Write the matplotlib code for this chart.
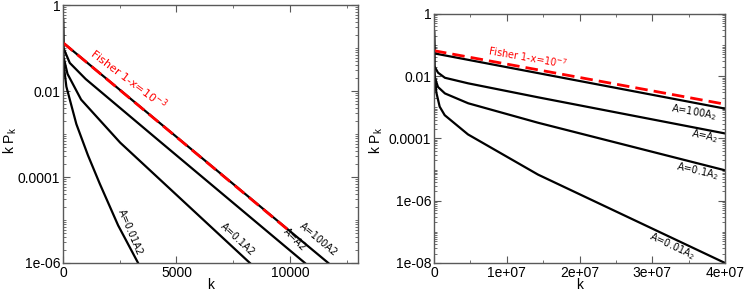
import numpy as np
import matplotlib
matplotlib.use("Agg")
import matplotlib.pyplot as plt
from matplotlib.ticker import LogLocator, MultipleLocator, NullFormatter

# left panel: 1-x = 1e-3
k_fisher_l = [0, 9900]
pk_fisher_l = [0.133, 6.0e-6]
k_100a2_l = [1, 5, 11690]
pk_100a2_l = [0.45, 0.133, 1e-6]
k_a2_l = [1, 20, 300, 1000, 4200, 10660]
pk_a2_l = [0.45, 0.1, 0.045, 0.019, 7.2e-4, 1e-6]
k_01a2_l = [1, 20, 200, 800, 2520, 8235]
pk_01a2_l = [0.45, 0.063, 0.025, 0.0063, 6.3e-4, 1e-6]
k_001a2_l = [1, 10, 150, 590, 1100, 1620, 2430, 3310]
pk_001a2_l = [0.45, 0.05, 0.0126, 0.0017, 3.2e-4, 7.0e-5, 7.5e-6, 1e-6]

# right panel: 1-x = 1e-7
k_fisher_r = [0, 4e7]
pk_fisher_r = [0.066, 0.00126]
k_100a2_r = [1, 5e4, 4e7]
pk_100a2_r = [0.26, 0.054, 9.1e-4]
k_grid_r = [1, 5e4, 5.5e5, 1.5e6, 4.7e6, 1.43e7, 4e7]
pk_a2_r = [0.26, 0.021, 0.013, 0.0089, 0.0059, 0.0021, 1.45e-4]
pk_01a2_r = [0.26, 0.01, 0.0045, 0.0028, 0.00135, 3.2e-4, 9.5e-6]
k_001a2_r = [1, 3e4, 3.2e5, 7.8e5, 1.47e6, 4.67e6, 1.43e7, 4e7]
pk_001a2_r = [0.26, 0.017, 0.003, 0.00105, 5.6e-4, 1.35e-4, 6.9e-6, 1e-8]

plt.rcParams["font.family"] = ["Liberation Sans", "DejaVu Sans"]

fig = plt.figure(figsize=(7.47, 2.93), dpi=100)
ax1 = fig.add_axes([0.0843, 0.1024, 0.395, 0.8805])
ax2 = fig.add_axes([0.581, 0.1024, 0.3896, 0.850])

lw = 1.6
red_kw = dict(color="#ff0000", lw=2.0, dashes=(4.5, 2.2))
lab_kw = dict(fontsize=7, family="DejaVu Sans", ha="center", va="center",
              rotation_mode="anchor")

# ---- left
ax1.plot(k_001a2_l, pk_001a2_l, "k-", lw=lw)
ax1.plot(k_01a2_l, pk_01a2_l, "k-", lw=lw)
ax1.plot(k_a2_l, pk_a2_l, "k-", lw=lw)
ax1.plot(k_100a2_l, pk_100a2_l, "k-", lw=lw)
ax1.plot(k_fisher_l, pk_fisher_l, **red_kw)
ax1.set_yscale("log")
ax1.set_xlim(0, 13000)
ax1.set_ylim(1e-6, 1)
ax1.set_yticks([1, 1e-2, 1e-4, 1e-6], ["1", "0.01", "0.0001", "1e-06"])
ax1.set_xticks([0, 5000, 10000], ["0", "5000", "10000"])
ax1.xaxis.set_minor_locator(MultipleLocator(2500))

ax1.text(2900, 10**-1.72, r"Fisher 1-x=10$^{-3}$", color="#ff0000", rotation=-37,
         **dict(lab_kw, fontsize=8))
ax1.text(2950, 10**-5.28, "A=0.01A2", rotation=-67, **lab_kw)
ax1.text(7700, 10**-5.45, "A=0.1A2", rotation=-43, **lab_kw)
ax1.text(10200, 10**-5.45, "A=A2", rotation=-45, **lab_kw)
ax1.text(11250, 10**-5.45, "A=100A2", rotation=-40, **lab_kw)

# ---- right
ax2.plot(k_001a2_r, pk_001a2_r, "k-", lw=lw)
ax2.plot(k_grid_r, pk_01a2_r, "k-", lw=lw)
ax2.plot(k_grid_r, pk_a2_r, "k-", lw=lw)
ax2.plot(k_100a2_r, pk_100a2_r, "k-", lw=lw)
ax2.plot(k_fisher_r, pk_fisher_r, **red_kw)
ax2.set_yscale("log")
ax2.set_xlim(0, 4e7)
ax2.set_ylim(1e-8, 1)
ax2.set_yticks([1, 1e-2, 1e-4, 1e-6, 1e-8], ["1", "0.01", "0.0001", "1e-06", "1e-08"])
ax2.set_xticks([0, 1e7, 2e7, 3e7, 4e7], ["0", "1e+07", "2e+07", "3e+07", "4e+07"])
ax2.xaxis.set_minor_locator(MultipleLocator(5e6))

ax2.text(1.29e7, 10**-1.40, r"Fisher 1-x=10$^{-7}$", color="#ff0000", rotation=-10, **lab_kw)
ax2.text(3.57e7, 10**-3.17, r"A=100A$_2$", rotation=-10, **lab_kw)
ax2.text(3.72e7, 10**-3.92, r"A=A$_2$", rotation=-12, **lab_kw)
ax2.text(3.62e7, 10**-5.05, r"A=0.1A$_2$", rotation=-13, **lab_kw)
ax2.text(3.27e7, 10**-7.45, r"A=0.01A$_2$", rotation=-25, **lab_kw)

for ax in (ax1, ax2):
    ax.yaxis.set_minor_locator(LogLocator(base=10, subs=np.arange(1, 10), numticks=20))
    ax.yaxis.set_minor_formatter(NullFormatter())
    ax.tick_params(which="both", direction="in", top=True, right=True,
                   labelsize=10, pad=2, color="0.35")
    ax.tick_params(which="major", length=5)
    ax.tick_params(which="minor", length=2.5)
    for s in ax.spines.values():
        s.set_color("0.35")
        s.set_linewidth(1.0)
    ax.set_xlabel("k", fontsize=10, labelpad=-1)

# y labels placed by hand, as in the original layout
fig.text(10 / 747, 0.52, r"k P$_\mathregular{k}$", rotation=90, fontsize=10,
         ha="center", va="center")
fig.text(376 / 747, 0.52, r"k P$_\mathregular{k}$", rotation=90, fontsize=10,
         ha="center", va="center")

plt.savefig("out.png", dpi=100)
